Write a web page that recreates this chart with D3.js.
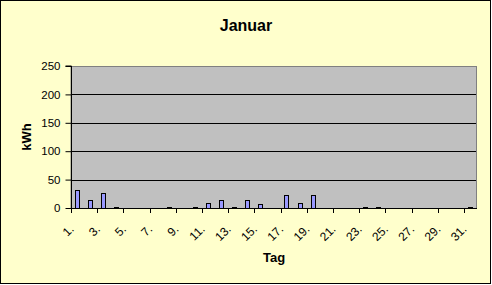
<!DOCTYPE html>
<html>
<head>
<meta charset="utf-8">
<script src="https://cdn.jsdelivr.net/npm/d3@7"></script>
<style>
  html, body { margin: 0; padding: 0; background: #fff; }
  svg { display: block; }
  text { font-family: Arial, "Liberation Sans", sans-serif; }
</style>
</head>
<body>
<svg id="chart" width="492" height="285"></svg>
<script>
const title = "Januar";
const xTitle = "Tag";
const yTitle = "kWh";
const days = d3.range(1, 32);
const values = [32, 14, 27, 1, 0, 0, 0, 1, 0, 1, 8, 14, 2, 14, 7, 0, 23, 9, 23, 0, 0, 0, 1, 1, 0, 0, 0, 0, 0, 0, 1];
const yTicks = [0, 50, 100, 150, 200, 250];

const W = 492, H = 285;
const plot = { left: 71, right: 477, top: 66, bottom: 208 };

const svg = d3.select("#chart");

// chart background and border
svg.append("rect").attr("x", 0.5).attr("y", 0.5).attr("width", W - 2).attr("height", H - 2)
  .attr("fill", "#FFFFCC").attr("stroke", "#000").attr("stroke-width", 1);

const x = d3.scaleBand().domain(days).range([plot.left, plot.right])
  .paddingInner(0.6).paddingOuter(0.3);
const y = d3.scaleLinear().domain([0, 250]).range([plot.bottom, plot.top]);

// plot area
svg.append("rect").attr("x", plot.left).attr("y", plot.top + 0.5)
  .attr("width", plot.right - plot.left - 0.5).attr("height", plot.bottom - plot.top)
  .attr("fill", "#C0C0C0").attr("stroke", "#808080").attr("stroke-width", 1);

// gridlines
svg.append("g").selectAll("line").data(yTicks.filter(v => v > 0 && v < 250)).join("line")
  .attr("x1", plot.left).attr("x2", plot.right - 1)
  .attr("y1", d => Math.round(y(d)) + 0.5).attr("y2", d => Math.round(y(d)) + 0.5)
  .attr("stroke", "#000").attr("stroke-width", 1);

// bars
svg.append("g").selectAll("rect").data(values).join("rect")
  .attr("x", (d, i) => Math.round(x(days[i])) + 0.5)
  .attr("y", d => Math.round(y(d)) + 0.5)
  .attr("width", Math.round(x.bandwidth()) - 1)
  .attr("height", d => Math.max(0, Math.round(y(0)) - Math.round(y(d))))
  .attr("fill", "#9999FF").attr("stroke", "#000").attr("stroke-width", 1)
  .style("display", d => d > 0 ? null : "none");

// y axis
const yAxis = d3.axisLeft(y).tickValues(yTicks).tickSize(6).tickPadding(5);
const gy = svg.append("g").attr("transform", `translate(${plot.left + 0.5},0)`).call(yAxis);
gy.select(".domain").attr("d", `M-6,${y(250)}H0V${y(0)}`).attr("stroke", "#000");
gy.selectAll(".tick line").attr("stroke", "#000");
gy.selectAll("text").attr("font-size", 11.5).attr("fill", "#000")
  .attr("font-family", 'Arial, "Liberation Sans", sans-serif');

// x axis line
svg.append("line").attr("x1", plot.left).attr("x2", plot.right)
  .attr("y1", plot.bottom + 0.5).attr("y2", plot.bottom + 0.5).attr("stroke", "#000");

// x tick marks every 2 categories at category boundaries
const boundary = d => x(d) - x.step() * x.paddingInner() / 2;
svg.append("g").selectAll("line").data(days.filter((d, i) => i % 2 === 0)).join("line")
  .attr("x1", d => Math.round(boundary(d)) + 0.5).attr("x2", d => Math.round(boundary(d)) + 0.5)
  .attr("y1", plot.bottom).attr("y2", plot.bottom + 5)
  .attr("stroke", "#000");

// x labels rotated
svg.append("g").selectAll("text").data(days.filter((d, i) => i % 2 === 0)).join("text")
  .attr("transform", d => `translate(${x(d) + x.bandwidth() / 2 - 3},${230}) rotate(-45)`)
  .attr("text-anchor", "end")
  .attr("font-size", 12)
  .attr("fill", "#000")
  .text(d => d + ".");

// titles
svg.append("text").attr("x", 246).attr("y", 31).attr("text-anchor", "middle")
  .attr("font-size", 16).attr("font-weight", "bold").text(title);
svg.append("text").attr("x", (plot.left + plot.right) / 2).attr("y", 262).attr("text-anchor", "middle")
  .attr("font-size", 13).attr("font-weight", "bold").text(xTitle);
svg.append("text").attr("transform", `translate(31,${(plot.top + plot.bottom) / 2}) rotate(-90)`)
  .attr("text-anchor", "middle").attr("font-size", 13).attr("font-weight", "bold").text(yTitle);
</script>
</body>
</html>
